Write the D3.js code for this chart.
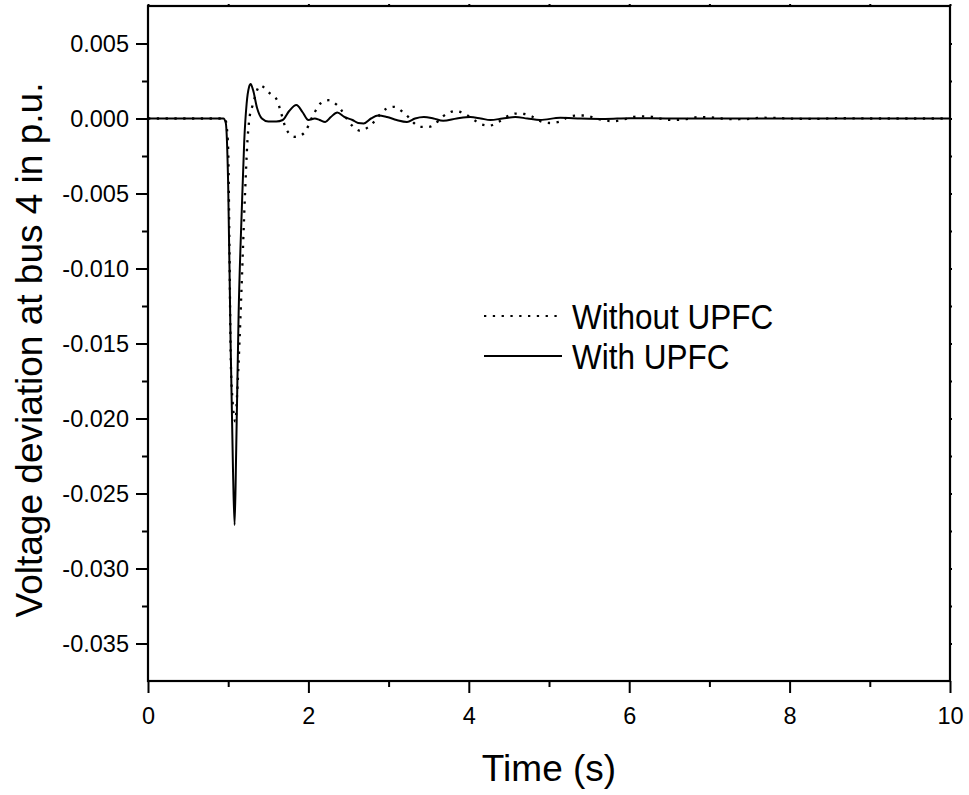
<!DOCTYPE html>
<html>
<head>
<meta charset="utf-8">
<script src="https://cdn.jsdelivr.net/npm/d3@7"></script>
<style>
  html, body { margin: 0; padding: 0; background: #fff; }
  svg { display: block; font-family: "Liberation Sans", Arial, Helvetica, sans-serif; }
</style>
</head>
<body>
<div id="chart"></div>
<script>
// ---------------- data ----------------
const timeWith = [0, 0.5, 0.94, 0.97, 1.0, 1.03, 1.06, 1.08, 1.10, 1.13, 1.17, 1.20, 1.23, 1.26, 1.28, 1.31, 1.36, 1.42, 1.50, 1.60, 1.68, 1.76, 1.85, 1.93, 2.00, 2.08, 2.14, 2.21, 2.28, 2.36, 2.45, 2.55, 2.62, 2.69, 2.78, 2.87, 2.98, 3.10, 3.23, 3.33, 3.44, 3.56, 3.68, 3.85, 4.02, 4.15, 4.27, 4.42, 4.58, 4.73, 4.89, 5.14, 5.40, 5.70, 6.00, 6.50, 8.00, 10.0];
const valuesWith = [0, 0, 0, -0.0003, -0.0045, -0.0150, -0.0235, -0.0271, -0.0220, -0.0130, -0.0060, -0.0015, 0.0010, 0.0021, 0.0023, 0.0019, 0.0007, 0.0000, -0.0002, -0.0002, -0.0001, 0.0005, 0.0009, 0.0004, -0.0001, 0.0000, -0.0001, -0.00023, 0.0001, 0.0004, 0.0001, -0.0001, -0.0003, -0.00033, 0.0000, 0.0002, 0.0001, -0.0001, -0.00023, 0.0000, 0.0001, 0.0000, -0.00015, 0.0000, 0.0001, 0.0000, -0.0001, 0.0000, 0.0001, 0.0000, -0.0001, 0.00005, 0.0, -0.00003, 0.00002, 0, 0, 0];

const timeWithout = [0, 0.5, 0.96, 0.98, 1.00, 1.016, 1.03, 1.05, 1.09, 1.11, 1.14, 1.165, 1.21, 1.24, 1.27, 1.30, 1.40, 1.52, 1.61, 1.65, 1.73, 1.83, 1.94, 2.07, 2.15, 2.25, 2.36, 2.54, 2.65, 2.75, 2.98, 3.07, 3.19, 3.40, 3.50, 3.73, 3.83, 3.94, 4.04, 4.15, 4.26, 4.37, 4.48, 4.59, 4.69, 4.80, 4.91, 5.02, 5.13, 5.24, 5.35, 5.46, 5.58, 5.69, 5.80, 5.91, 6.02, 6.13, 6.24, 6.35, 6.45, 6.55, 6.70, 6.88, 7.00, 7.15, 7.31, 7.45, 7.65, 7.80, 8.00, 8.30, 8.60, 9.00, 10.0];
const valuesWithout = [0, 0, 0, -0.0005, -0.0021, -0.0088, -0.0155, -0.0185, -0.0202, -0.0185, -0.0150, -0.0115, -0.0050, -0.0015, 0.0002, 0.0008, 0.0022, 0.00167, 0.00122, 0.00055, -0.00078, -0.00122, -0.0010, 0.00033, 0.0010, 0.00122, 0.00089, -0.00045, -0.00082, -0.00056, 0.00067, 0.00078, 0.00038, -0.00056, -0.00056, 0.00033, 0.0005, 0.00033, 0.0000, -0.00038, -0.00047, -0.00022, 0.00015, 0.00033, 0.0003, 0.0001, -0.00022, -0.0003, -0.00022, 0.0001, 0.0002, 0.0002, 0.0000, -0.00012, -0.00018, -0.0001, 0.00007, 0.00014, 0.00014, 0.00004, -0.00007, -0.0001, -0.00005, 0.0001, 0.00008, 0.0000, -0.00005, -0.00004, 0.00005, 0.00004, 0.0, -0.00003, 0.00002, 0, 0];

const xTicksMajor = [0, 2, 4, 6, 8, 10];
const xTicksMinor = [1, 3, 5, 7, 9];
const yTicksMajor = [0.005, 0.000, -0.005, -0.010, -0.015, -0.020, -0.025, -0.030, -0.035];
const yTicksMinor = [0.0025, -0.0025, -0.0075, -0.0125, -0.0175, -0.0225, -0.0275, -0.0325];
const yTickLabels = ["0.005", "0.000", "-0.005", "-0.010", "-0.015", "-0.020", "-0.025", "-0.030", "-0.035"];
const xTitle = "Time (s)";
const yTitle = "Voltage deviation at bus 4 in p.u.";
const legendLabels = ["Without UPFC", "With UPFC"];

// ---------------- layout ----------------
const W = 969, H = 795;
const mLeft = 148, mRight = 950, mTop = 6, mBottom = 681;

const svg = d3.select("#chart").append("svg").attr("width", W).attr("height", H);

const x = d3.scaleLinear().domain([0, 10]).range([mLeft, mRight]);
const y = d3.scaleLinear().domain([-0.0375, 0.0075]).range([mBottom, mTop]);

const seriesWithout = timeWithout.map((t, i) => [t, valuesWithout[i]]);
const seriesWith = timeWith.map((t, i) => [t, valuesWith[i]]);

const line = d3.line().x(d => x(d[0])).y(d => y(d[1])).curve(d3.curveMonotoneX);

const plot = svg.append("g");
plot.append("path").datum(seriesWithout)
  .attr("d", line).attr("fill", "none").attr("stroke", "#000")
  .attr("stroke-width", 2.3).attr("stroke-dasharray", "2.3,6.5");
plot.append("path").datum(seriesWith)
  .attr("d", line).attr("fill", "none").attr("stroke", "#000")
  .attr("stroke-width", 2);

// ---------------- axes ----------------
function styleAxis(g) {
  g.select(".domain").remove();
  g.selectAll(".tick line").attr("stroke", "#000").attr("stroke-width", 2);
  g.selectAll("text").attr("fill", "#000").attr("font-size", 23.5)
    .attr("font-family", "'Liberation Sans', Arial, sans-serif");
}

svg.append("g").attr("transform", `translate(0,${mBottom})`)
  .call(d3.axisBottom(x).tickValues(xTicksMajor).tickSize(12).tickPadding(14).tickFormat(d3.format("d")))
  .call(styleAxis);
svg.append("g").attr("transform", `translate(0,${mBottom})`)
  .call(d3.axisBottom(x).tickValues(xTicksMinor).tickSize(6).tickFormat(""))
  .call(styleAxis);
svg.append("g").attr("transform", `translate(${mLeft},0)`)
  .call(d3.axisLeft(y).tickValues(yTicksMajor).tickSize(12).tickPadding(7)
    .tickFormat((d, i) => yTickLabels[i]))
  .call(styleAxis);
svg.append("g").attr("transform", `translate(${mLeft},0)`)
  .call(d3.axisLeft(y).tickValues(yTicksMinor).tickSize(6).tickFormat(""))
  .call(styleAxis);
svg.append("g").attr("transform", `translate(0,${mTop})`)
  .call(d3.axisTop(x).tickValues(xTicksMajor.concat(xTicksMinor)).tickSize(2).tickFormat(""))
  .call(styleAxis);
svg.append("g").attr("transform", `translate(${mRight},0)`)
  .call(d3.axisRight(y).tickValues(yTicksMajor.concat(yTicksMinor)).tickSize(2).tickFormat(""))
  .call(styleAxis);

svg.append("rect").attr("x", mLeft).attr("y", mTop)
  .attr("width", mRight - mLeft).attr("height", mBottom - mTop)
  .attr("fill", "none").attr("stroke", "#000").attr("stroke-width", 2.2);

// ---------------- titles ----------------
svg.append("text").attr("x", (mLeft + mRight) / 2).attr("y", 781)
  .attr("text-anchor", "middle").attr("font-size", 37).attr("fill", "#000")
  .text(xTitle);
svg.append("text")
  .attr("transform", `translate(42,350) rotate(-90)`)
  .attr("text-anchor", "middle").attr("font-size", 37).attr("fill", "#000")
  .text(yTitle);

// ---------------- legend ----------------
const legend = svg.append("g");
const legendStyles = [
  { dash: "2.3,6.5", width: 2.2 },
  { dash: null, width: 2 }
];
legendLabels.forEach((lab, i) => {
  const ly = 316 + i * 40;
  const ln = legend.append("line").attr("x1", 484).attr("x2", 562)
    .attr("y1", ly).attr("y2", ly).attr("stroke", "#000")
    .attr("stroke-width", legendStyles[i].width);
  if (legendStyles[i].dash) ln.attr("stroke-dasharray", legendStyles[i].dash);
  legend.append("text").attr("transform", `translate(572,${ly + 12.5}) scale(0.9,1)`)
    .attr("font-size", 35).attr("fill", "#000").text(lab);
});
</script>
</body>
</html>
